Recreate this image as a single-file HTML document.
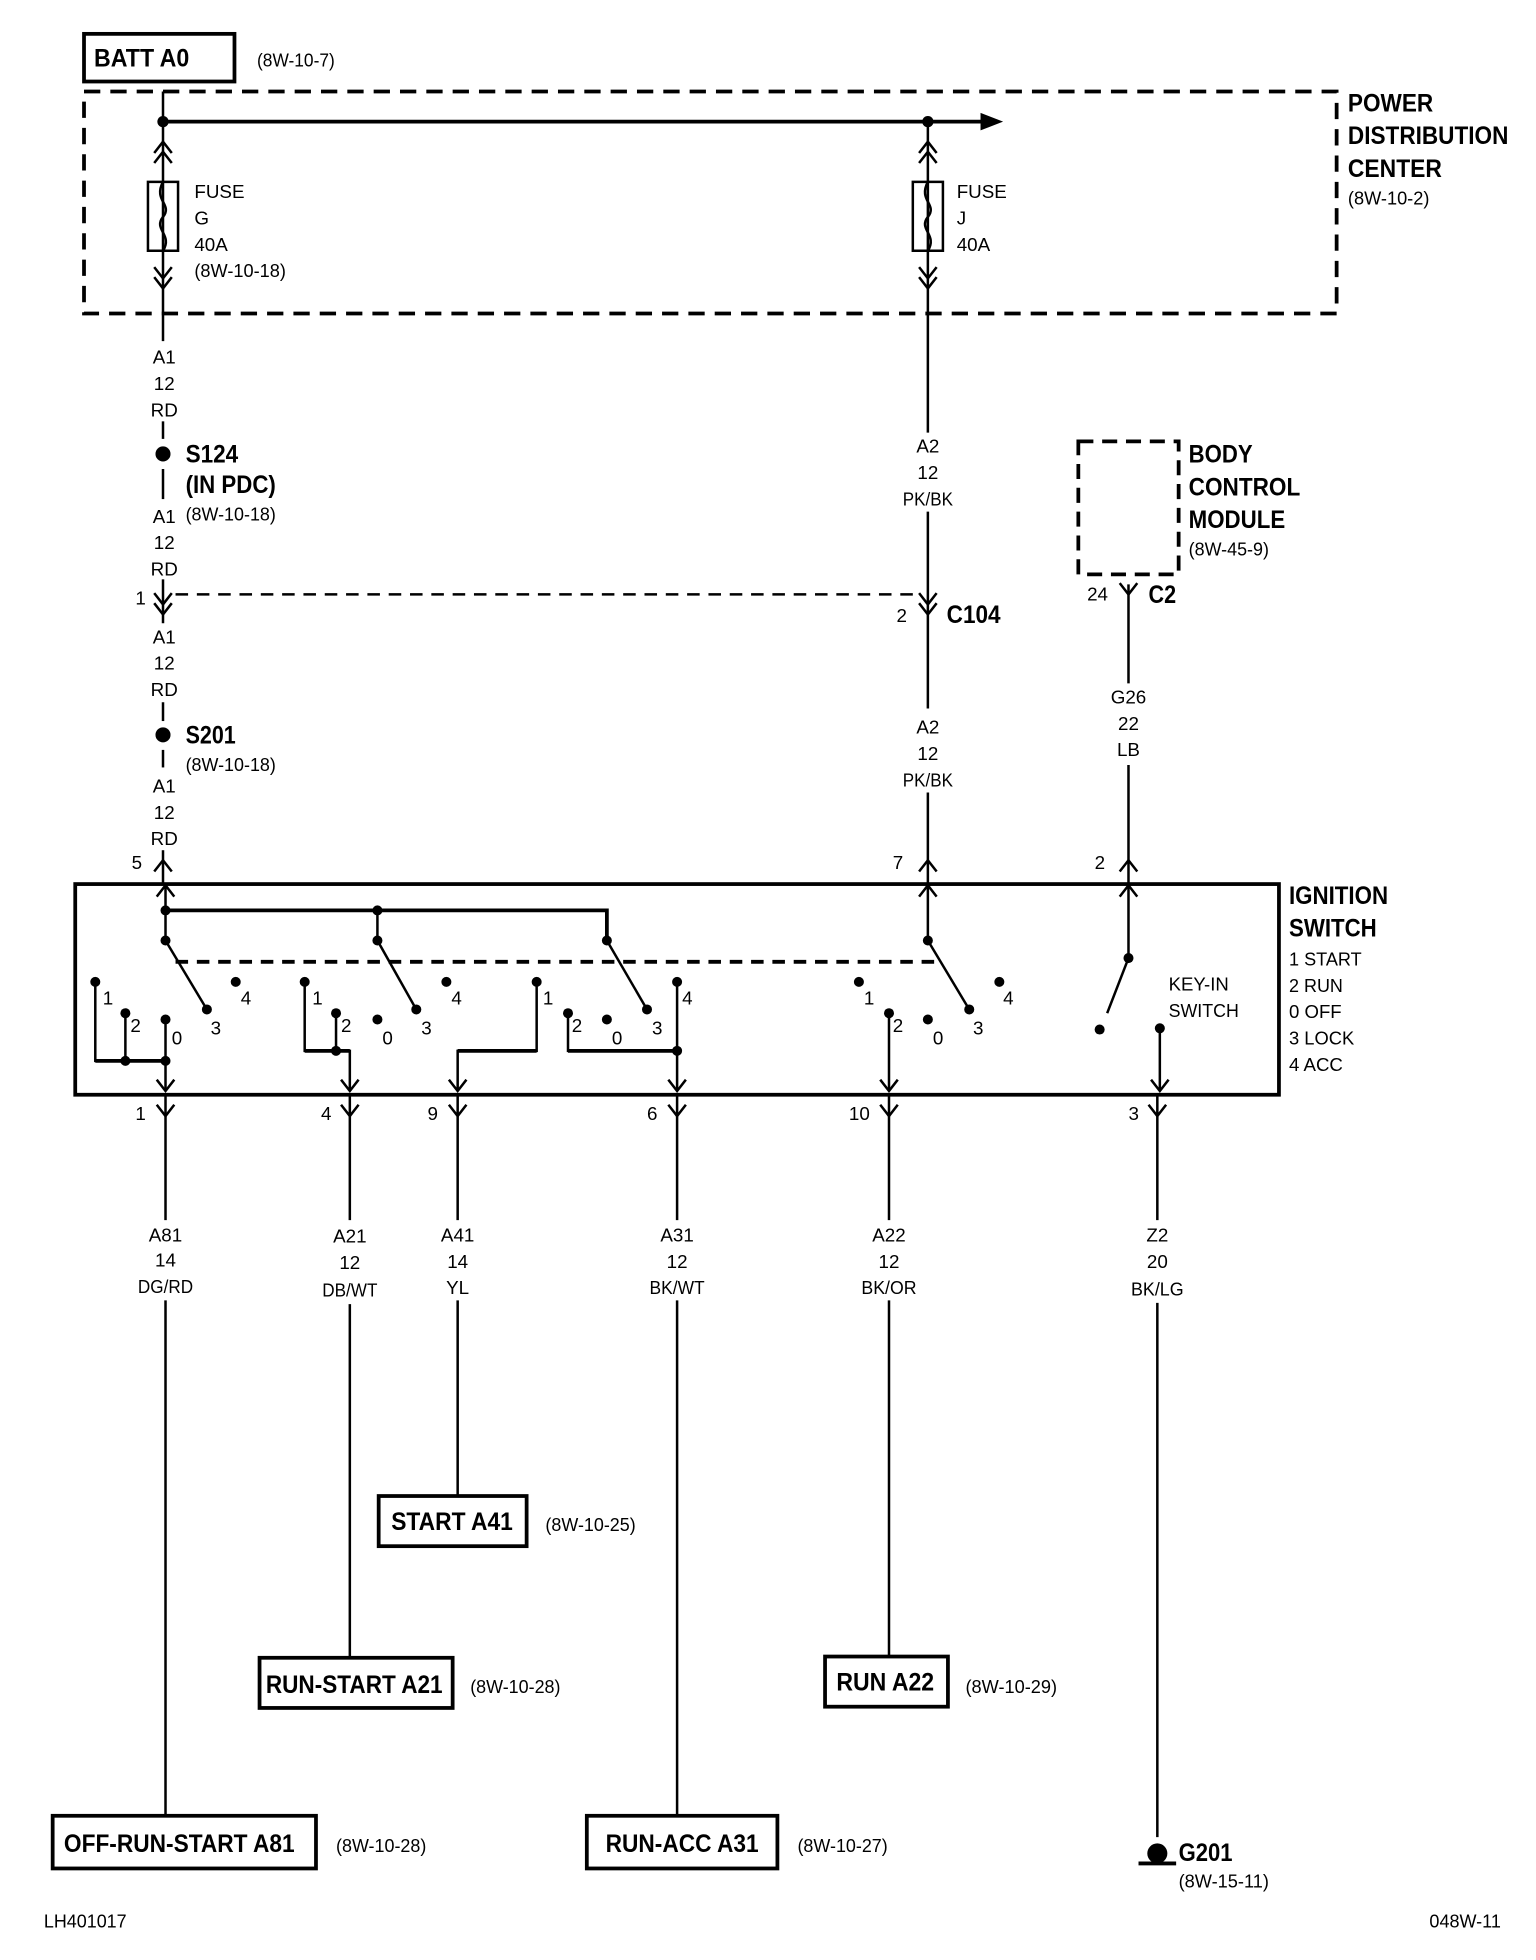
<!DOCTYPE html>
<html><head><meta charset="utf-8"><style>
html,body{margin:0;padding:0;background:#fff}
svg{display:block}
text{font-family:"Liberation Sans Narrow","Liberation Sans",sans-serif;fill:#000}
.b{font-weight:bold;font-size:20px}
.s{font-size:15px}
.c{text-anchor:middle}
</style></head><body>
<svg width="1536" height="1960" viewBox="0 0 1225 1563" preserveAspectRatio="none" xmlns="http://www.w3.org/2000/svg">
<defs>
<path id="up" d="M-7 9 L0 0 L7 9" fill="none" stroke="#000" stroke-width="2"/>
<path id="dn" d="M-7 -9 L0 0 L7 -9" fill="none" stroke="#000" stroke-width="2"/>
<path id="fuse" d="M-12 0 H12 V55 H-12 Z M0 0 C-8 15 8 18 0 28 C-8 38 8 42 0 55" fill="none" stroke="#000" stroke-width="2"/>
</defs>
<g stroke="#000" stroke-width="2" fill="none">
<rect x="67" y="27" width="120" height="38" stroke-width="3"/>
<rect x="67" y="73" width="999" height="177" stroke-width="3" stroke-dasharray="13 8"/>
<line x1="130" y1="97" x2="785" y2="97" stroke-width="3"/>
<line x1="130" y1="73" x2="130" y2="272"/>
<line x1="740" y1="97" x2="740" y2="345"/>
<line x1="130" y1="336" x2="130" y2="350"/>
<line x1="130" y1="374" x2="130" y2="398"/>
<line x1="130" y1="462" x2="130" y2="497"/>
<line x1="130" y1="560" x2="130" y2="575"/>
<line x1="130" y1="598" x2="130" y2="612"/>
<line x1="130" y1="678" x2="130" y2="705"/>
<line x1="140" y1="474" x2="735" y2="474" stroke-dasharray="10 7"/>
<line x1="740" y1="408" x2="740" y2="565"/>
<line x1="740" y1="632" x2="740" y2="705"/>
<rect x="860" y="352" width="80" height="106" stroke-width="3" stroke-dasharray="12 7"/>
<line x1="900" y1="466" x2="900" y2="545"/>
<line x1="900" y1="610" x2="900" y2="705"/>
<rect x="60" y="705" width="960" height="168" stroke-width="3"/>
<line x1="132" y1="705" x2="132" y2="750"/>
<polyline points="132,726 484,726 484,750" stroke-width="3"/>
<line x1="301" y1="726" x2="301" y2="750"/>
<line x1="740" y1="705" x2="740" y2="750"/>
<line x1="140" y1="767" x2="750" y2="767" stroke-width="3" stroke-dasharray="10 7"/>
<line x1="132" y1="750" x2="165" y2="805"/>
<line x1="301" y1="750" x2="332" y2="805"/>
<line x1="484" y1="750" x2="516" y2="805"/>
<line x1="740" y1="750" x2="773" y2="805"/>
<polyline points="76,783 76,846 132,846" />
<line x1="76" y1="846" x2="132" y2="846" stroke-width="3"/>
<line x1="100" y1="808" x2="100" y2="846"/>
<line x1="132" y1="813" x2="132" y2="870"/>
<polyline points="243,783 243,838 279,838 279,870"/>
<line x1="243" y1="838" x2="279" y2="838" stroke-width="3"/>
<line x1="268" y1="808" x2="268" y2="838"/>
<polyline points="428,783 428,838 365,838 365,870"/>
<line x1="428" y1="838" x2="365" y2="838" stroke-width="3"/>
<polyline points="453,808 453,838 540,838"/>
<line x1="453" y1="838" x2="540" y2="838" stroke-width="3"/>
<line x1="540" y1="783" x2="540" y2="870"/>
<line x1="709" y1="808" x2="709" y2="870"/>
<line x1="900" y1="705" x2="900" y2="764"/>
<line x1="900" y1="764" x2="883" y2="808"/>
<line x1="925" y1="820" x2="925" y2="870"/>
<line x1="132" y1="873" x2="132" y2="973"/><line x1="132" y1="1037" x2="132" y2="1448"/>
<line x1="279" y1="873" x2="279" y2="973"/><line x1="279" y1="1040" x2="279" y2="1322"/>
<line x1="365" y1="873" x2="365" y2="973"/><line x1="365" y1="1037" x2="365" y2="1193"/>
<line x1="540" y1="873" x2="540" y2="973"/><line x1="540" y1="1037" x2="540" y2="1448"/>
<line x1="709" y1="873" x2="709" y2="973"/><line x1="709" y1="1037" x2="709" y2="1321"/>
<line x1="923" y1="873" x2="923" y2="973"/><line x1="923" y1="1039" x2="923" y2="1465"/>
<rect x="302" y="1193" width="118" height="40" stroke-width="3"/>
<rect x="207" y="1322" width="154" height="40" stroke-width="3"/>
<rect x="658" y="1321" width="98" height="40" stroke-width="3"/>
<rect x="42" y="1448" width="210" height="42" stroke-width="3"/>
<rect x="468" y="1448" width="152" height="42" stroke-width="3"/>
<line x1="908" y1="1486" x2="938" y2="1486" stroke-width="3"/>
</g>
<path d="M782 90 L800 97 L782 104 Z" fill="#000"/>
<use href="#fuse" x="130" y="145"/><use href="#fuse" x="740" y="145"/>
<g>
<use href="#up" x="130" y="113"/><use href="#up" x="130" y="121"/>
<use href="#dn" x="130" y="222"/><use href="#dn" x="130" y="230"/>
<use href="#up" x="740" y="113"/><use href="#up" x="740" y="121"/>
<use href="#dn" x="740" y="222"/><use href="#dn" x="740" y="230"/>
<use href="#dn" x="130" y="482"/><use href="#dn" x="130" y="490"/>
<use href="#dn" x="740" y="482"/><use href="#dn" x="740" y="490"/>
<use href="#dn" x="900" y="474"/>
<use href="#up" x="130" y="686"/><use href="#up" x="740" y="686"/><use href="#up" x="900" y="686"/>
<use href="#up" x="132" y="706"/><use href="#up" x="740" y="706"/><use href="#up" x="900" y="706"/>
<use href="#dn" x="132" y="870"/><use href="#dn" x="279" y="870"/><use href="#dn" x="365" y="870"/><use href="#dn" x="540" y="870"/><use href="#dn" x="709" y="870"/><use href="#dn" x="925" y="870"/>
<use href="#dn" x="132" y="890"/><use href="#dn" x="279" y="890"/><use href="#dn" x="365" y="890"/><use href="#dn" x="540" y="890"/><use href="#dn" x="709" y="890"/><use href="#dn" x="923" y="890"/>
</g>
<g fill="#000">
<circle cx="130" cy="97" r="4.5"/><circle cx="740" cy="97" r="4.5"/>
<circle cx="130" cy="362" r="6"/><circle cx="130" cy="586" r="6"/>
<circle cx="132" cy="726" r="4"/><circle cx="301" cy="726" r="4"/>
<circle cx="132" cy="750" r="4"/><circle cx="301" cy="750" r="4"/><circle cx="484" cy="750" r="4"/><circle cx="740" cy="750" r="4"/>
<circle cx="76" cy="783" r="4"/><circle cx="100" cy="808" r="4"/><circle cx="132" cy="813" r="4"/><circle cx="165" cy="805" r="4"/><circle cx="188" cy="783" r="4"/>
<circle cx="243" cy="783" r="4"/><circle cx="268" cy="808" r="4"/><circle cx="301" cy="813" r="4"/><circle cx="332" cy="805" r="4"/><circle cx="356" cy="783" r="4"/>
<circle cx="428" cy="783" r="4"/><circle cx="453" cy="808" r="4"/><circle cx="484" cy="813" r="4"/><circle cx="516" cy="805" r="4"/><circle cx="540" cy="783" r="4"/>
<circle cx="685" cy="783" r="4"/><circle cx="709" cy="808" r="4"/><circle cx="740" cy="813" r="4"/><circle cx="773" cy="805" r="4"/><circle cx="797" cy="783" r="4"/>
<circle cx="900" cy="764" r="4"/><circle cx="877" cy="821" r="4"/><circle cx="925" cy="820" r="4"/>
<circle cx="100" cy="846" r="4"/><circle cx="132" cy="846" r="4"/><circle cx="268" cy="838" r="4"/><circle cx="540" cy="838" r="4"/>
<circle cx="923" cy="1478" r="8"/>
</g>
<text class="b" x="75" y="53" textLength="76" lengthAdjust="spacingAndGlyphs">BATT A0</text>
<text class="s" x="205" y="53" textLength="62" lengthAdjust="spacingAndGlyphs">(8W-10-7)</text>
<text class="b" x="1075" y="89" textLength="68" lengthAdjust="spacingAndGlyphs">POWER</text>
<text class="b" x="1075" y="115" textLength="128" lengthAdjust="spacingAndGlyphs">DISTRIBUTION</text>
<text class="b" x="1075" y="141" textLength="75" lengthAdjust="spacingAndGlyphs">CENTER</text>
<text class="s" x="1075" y="163" textLength="65" lengthAdjust="spacingAndGlyphs">(8W-10-2)</text>
<text class="s" x="155" y="158">FUSE</text><text class="s" x="155" y="179">G</text><text class="s" x="155" y="200">40A</text><text class="s" x="155" y="221" textLength="73" lengthAdjust="spacingAndGlyphs">(8W-10-18)</text>
<text class="s" x="763" y="158">FUSE</text><text class="s" x="763" y="179">J</text><text class="s" x="763" y="200">40A</text>
<text class="s c" x="131" y="290">A1</text><text class="s c" x="131" y="311">12</text><text class="s c" x="131" y="332">RD</text>
<text class="s c" x="131" y="417">A1</text><text class="s c" x="131" y="438">12</text><text class="s c" x="131" y="459">RD</text>
<text class="s c" x="131" y="513">A1</text><text class="s c" x="131" y="534">12</text><text class="s c" x="131" y="555">RD</text>
<text class="s c" x="131" y="632">A1</text><text class="s c" x="131" y="653">12</text><text class="s c" x="131" y="674">RD</text>
<text class="s c" x="740" y="361">A2</text><text class="s c" x="740" y="382">12</text><text class="s c" x="740" y="403" textLength="40" lengthAdjust="spacingAndGlyphs">PK/BK</text>
<text class="s c" x="740" y="585">A2</text><text class="s c" x="740" y="606">12</text><text class="s c" x="740" y="627" textLength="40" lengthAdjust="spacingAndGlyphs">PK/BK</text>
<text class="s c" x="900" y="561">G26</text><text class="s c" x="900" y="582">22</text><text class="s c" x="900" y="603">LB</text>
<text class="s c" x="132" y="990">A81</text><text class="s c" x="132" y="1010">14</text><text class="s c" x="132" y="1031" textLength="44" lengthAdjust="spacingAndGlyphs">DG/RD</text>
<text class="s c" x="279" y="991">A21</text><text class="s c" x="279" y="1012">12</text><text class="s c" x="279" y="1034" textLength="44" lengthAdjust="spacingAndGlyphs">DB/WT</text>
<text class="s c" x="365" y="990">A41</text><text class="s c" x="365" y="1011">14</text><text class="s c" x="365" y="1032">YL</text>
<text class="s c" x="540" y="990">A31</text><text class="s c" x="540" y="1011">12</text><text class="s c" x="540" y="1032" textLength="44" lengthAdjust="spacingAndGlyphs">BK/WT</text>
<text class="s c" x="709" y="990">A22</text><text class="s c" x="709" y="1011">12</text><text class="s c" x="709" y="1032" textLength="44" lengthAdjust="spacingAndGlyphs">BK/OR</text>
<text class="s c" x="923" y="990">Z2</text><text class="s c" x="923" y="1011">20</text><text class="s c" x="923" y="1033" textLength="42" lengthAdjust="spacingAndGlyphs">BK/LG</text>
<text class="b" x="148" y="369" textLength="42" lengthAdjust="spacingAndGlyphs">S124</text><text class="b" x="148" y="393" textLength="72" lengthAdjust="spacingAndGlyphs">(IN PDC)</text><text class="s" x="148" y="415" textLength="72" lengthAdjust="spacingAndGlyphs">(8W-10-18)</text>
<text class="b" x="148" y="593" textLength="40" lengthAdjust="spacingAndGlyphs">S201</text><text class="s" x="148" y="615" textLength="72" lengthAdjust="spacingAndGlyphs">(8W-10-18)</text>
<text class="s" x="108" y="482">1</text><text class="s" x="715" y="496">2</text><text class="b" x="755" y="497" textLength="43" lengthAdjust="spacingAndGlyphs">C104</text>
<text class="b" x="948" y="369" textLength="51" lengthAdjust="spacingAndGlyphs">BODY</text><text class="b" x="948" y="395" textLength="89" lengthAdjust="spacingAndGlyphs">CONTROL</text><text class="b" x="948" y="421" textLength="77" lengthAdjust="spacingAndGlyphs">MODULE</text><text class="s" x="948" y="443" textLength="64" lengthAdjust="spacingAndGlyphs">(8W-45-9)</text>
<text class="s" x="867" y="479">24</text><text class="b" x="916" y="481" textLength="22" lengthAdjust="spacingAndGlyphs">C2</text>
<text class="s" x="105" y="693">5</text><text class="s" x="712" y="693">7</text><text class="s" x="873" y="693">2</text>
<text class="b" x="1028" y="721" textLength="79" lengthAdjust="spacingAndGlyphs">IGNITION</text><text class="b" x="1028" y="747" textLength="70" lengthAdjust="spacingAndGlyphs">SWITCH</text>
<text class="s" x="1028" y="770" textLength="58" lengthAdjust="spacingAndGlyphs">1 START</text><text class="s" x="1028" y="791" textLength="43" lengthAdjust="spacingAndGlyphs">2 RUN</text><text class="s" x="1028" y="812" textLength="42" lengthAdjust="spacingAndGlyphs">0 OFF</text><text class="s" x="1028" y="833" textLength="52" lengthAdjust="spacingAndGlyphs">3 LOCK</text><text class="s" x="1028" y="854" textLength="43" lengthAdjust="spacingAndGlyphs">4 ACC</text>
<text class="s" x="932" y="790" textLength="48" lengthAdjust="spacingAndGlyphs">KEY-IN</text><text class="s" x="932" y="811" textLength="56" lengthAdjust="spacingAndGlyphs">SWITCH</text>
<text class="s" x="82" y="801">1</text><text class="s" x="104" y="823">2</text><text class="s" x="137" y="833">0</text><text class="s" x="168" y="825">3</text><text class="s" x="192" y="801">4</text>
<text class="s" x="249" y="801">1</text><text class="s" x="272" y="823">2</text><text class="s" x="305" y="833">0</text><text class="s" x="336" y="825">3</text><text class="s" x="360" y="801">4</text>
<text class="s" x="433" y="801">1</text><text class="s" x="456" y="823">2</text><text class="s" x="488" y="833">0</text><text class="s" x="520" y="825">3</text><text class="s" x="544" y="801">4</text>
<text class="s" x="689" y="801">1</text><text class="s" x="712" y="823">2</text><text class="s" x="744" y="833">0</text><text class="s" x="776" y="825">3</text><text class="s" x="800" y="801">4</text>
<text class="s" x="108" y="893">1</text><text class="s" x="256" y="893">4</text><text class="s" x="341" y="893">9</text><text class="s" x="516" y="893">6</text><text class="s" x="677" y="893">10</text><text class="s" x="900" y="893">3</text>
<text class="b" x="312" y="1220" textLength="97" lengthAdjust="spacingAndGlyphs">START A41</text><text class="s" x="435" y="1221" textLength="72" lengthAdjust="spacingAndGlyphs">(8W-10-25)</text>
<text class="b" x="212" y="1350" textLength="141" lengthAdjust="spacingAndGlyphs">RUN-START A21</text><text class="s" x="375" y="1350" textLength="72" lengthAdjust="spacingAndGlyphs">(8W-10-28)</text>
<text class="b" x="667" y="1348" textLength="78" lengthAdjust="spacingAndGlyphs">RUN A22</text><text class="s" x="770" y="1350" textLength="73" lengthAdjust="spacingAndGlyphs">(8W-10-29)</text>
<text class="b" x="51" y="1477" textLength="184" lengthAdjust="spacingAndGlyphs">OFF-RUN-START A81</text><text class="s" x="268" y="1477" textLength="72" lengthAdjust="spacingAndGlyphs">(8W-10-28)</text>
<text class="b" x="483" y="1477" textLength="122" lengthAdjust="spacingAndGlyphs">RUN-ACC A31</text><text class="s" x="636" y="1477" textLength="72" lengthAdjust="spacingAndGlyphs">(8W-10-27)</text>
<text class="b" x="940" y="1484" textLength="43" lengthAdjust="spacingAndGlyphs">G201</text><text class="s" x="940" y="1505" textLength="72" lengthAdjust="spacingAndGlyphs">(8W-15-11)</text>
<text class="s" x="35" y="1537" textLength="66" lengthAdjust="spacingAndGlyphs">LH401017</text><text class="s" x="1140" y="1537" textLength="57" lengthAdjust="spacingAndGlyphs">048W-11</text>
</svg>
</body></html>
